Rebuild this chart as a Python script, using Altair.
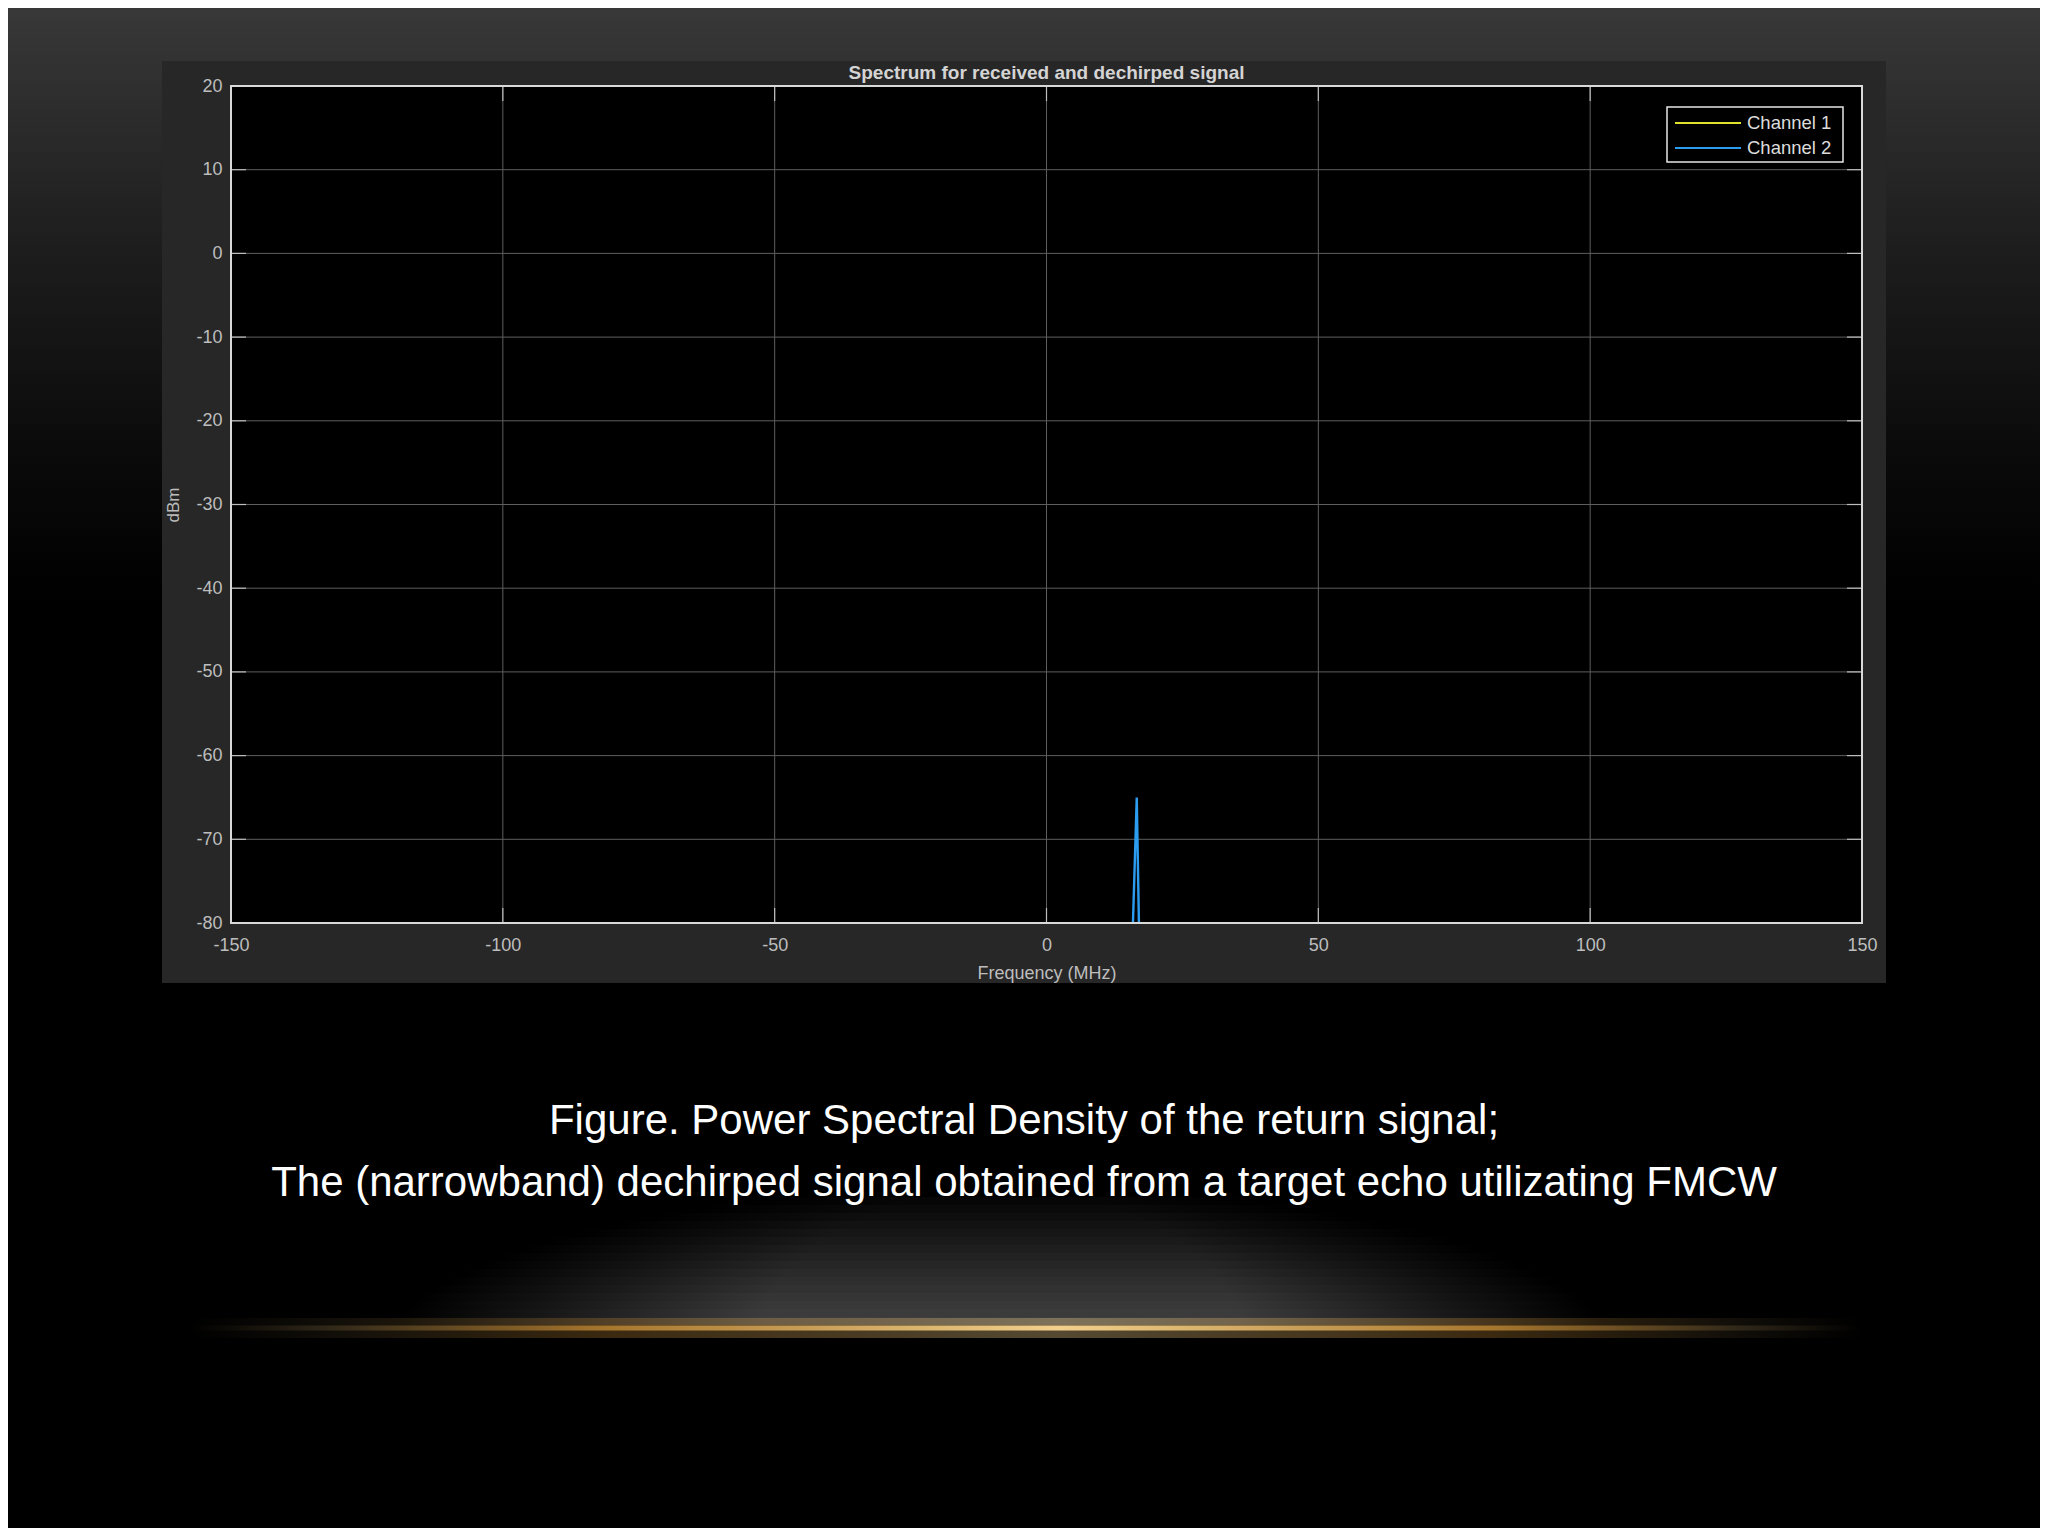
import altair as alt
import pandas as pd

# ---------------- data ----------------
freq_mhz = [15.9, 16.6, 17.0]          # Channel 2 spike (MHz)
ch2_dbm = [-80, -65, -80]              # Channel 2 level (dBm)
x_ticks = [-150, -100, -50, 0, 50, 100, 150]
y_ticks = [-80, -70, -60, -50, -40, -30, -20, -10, 0, 10, 20]
channels = ["Channel 1", "Channel 2"]
channel_colors = ["#e2e22a", "#2b9cf0"]
chart_title = "Spectrum for received and dechirped signal"
x_title = "Frequency (MHz)"
y_title = "dBm"
caption_lines = [
    "Figure. Power Spectral Density of the return signal;",
    "The (narrowband) dechirped signal obtained from a target echo utilizating FMCW",
]

# ---------------- layout ----------------
W, H = 1631, 837
PAD_L, PAD_T = 223, 78
TOTAL_W, TOTAL_H = 2032, 1520
LABEL_FONT = "Liberation Sans"
CAPTION_FONT = "Liberation Sans, Arial, sans-serif"

one = pd.DataFrame({"k": [1]})
xscale = alt.Scale(domain=[-150, 150], nice=False, zero=False)
yscale = alt.Scale(domain=[-80, 20], nice=False, zero=False)

x_axis = alt.Axis(values=x_ticks, grid=False, domain=False, ticks=False, tickSize=0,
                  labelFlush=False, labelOverlap=False, labelBound=False,
                  labelFont=LABEL_FONT, labelFontSize=18, labelColor="#bdbdbd",
                  labelPadding=13, labelExpr="'' + datum.value",
                  title=x_title, titleFont=LABEL_FONT, titleFontSize=18,
                  titleFontWeight="normal", titleColor="#bdbdbd", titlePadding=10,
                  zindex=1)
y_axis = alt.Axis(values=y_ticks, grid=False, domain=False, ticks=False, tickSize=0,
                  labelFlush=False, labelOverlap=False, labelBound=False,
                  labelFont=LABEL_FONT, labelFontSize=18, labelColor="#bdbdbd",
                  labelPadding=9, labelExpr="'' + datum.value",
                  title=y_title, titleFont=LABEL_FONT, titleFontSize=17,
                  titleFontWeight="normal", titleColor="#bdbdbd", titlePadding=13,
                  zindex=1)


def box(x1, x2, y1, y2, **kw):
    return alt.Chart(one).mark_rect(**kw).encode(
        x=alt.value(x1), x2=alt.value(x2), y=alt.value(y1), y2=alt.value(y2))


def label(text, x, y, **kw):
    return alt.Chart(one).mark_text(text=text, **kw).encode(x=alt.value(x), y=alt.value(y))


def hgrad(stops):
    return alt.LinearGradient(gradient="linear", x1=0, x2=1, y1=0, y2=0,
                              stops=[alt.GradientStop(offset=o, color=c) for o, c in stops])


# slide background gradient (top grey fading to black)
bg = box(-PAD_L, TOTAL_W - PAD_L, -PAD_T, 514,
         fill=alt.LinearGradient(gradient="linear", x1=0, x2=0, y1=0, y2=1, stops=[
             alt.GradientStop(offset=0, color="#383838"),
             alt.GradientStop(offset=0.24, color="#282828"),
             alt.GradientStop(offset=0.41, color="#1d1d1d"),
             alt.GradientStop(offset=0.59, color="#131313"),
             alt.GradientStop(offset=0.76, color="#0a0a0a"),
             alt.GradientStop(offset=1, color="#000000"),
         ]))

panel = box(-69, 1655, -25, 897, fill="#272727")
plot_bg = box(0, W, 0, H, fill="#000000")

df_xt = pd.DataFrame({"freq": x_ticks})
df_yt = pd.DataFrame({"dbm": y_ticks})

grid_x = alt.Chart(df_xt).mark_rule(color="#5e5e5e", strokeWidth=1).encode(
    x=alt.X("freq:Q", scale=xscale, axis=x_axis), y=alt.value(0), y2=alt.value(H))
grid_y = alt.Chart(df_yt).mark_rule(color="#5e5e5e", strokeWidth=1).encode(
    y=alt.Y("dbm:Q", scale=yscale, axis=y_axis), x=alt.value(0), x2=alt.value(W))

TL = 15
tick_b = alt.Chart(df_xt).mark_rule(color="#bdbdbd", strokeWidth=1.2).encode(
    x=alt.X("freq:Q", scale=xscale, axis=x_axis), y=alt.value(H), y2=alt.value(H - TL))
tick_t = alt.Chart(df_xt).mark_rule(color="#bdbdbd", strokeWidth=1.2).encode(
    x=alt.X("freq:Q", scale=xscale, axis=x_axis), y=alt.value(0), y2=alt.value(TL))
tick_l = alt.Chart(df_yt).mark_rule(color="#bdbdbd", strokeWidth=1.2).encode(
    y=alt.Y("dbm:Q", scale=yscale, axis=y_axis), x=alt.value(0), x2=alt.value(TL))
tick_r = alt.Chart(df_yt).mark_rule(color="#bdbdbd", strokeWidth=1.2).encode(
    y=alt.Y("dbm:Q", scale=yscale, axis=y_axis), x=alt.value(W - TL), x2=alt.value(W))

df_line = pd.DataFrame({"freq": freq_mhz, "dbm": ch2_dbm, "channel": ["Channel 2"] * len(freq_mhz)})
line = alt.Chart(df_line).mark_line(clip=True, strokeWidth=2.4).encode(
    x=alt.X("freq:Q", scale=xscale, axis=x_axis),
    y=alt.Y("dbm:Q", scale=yscale, axis=y_axis),
    color=alt.Color("channel:N", scale=alt.Scale(domain=channels, range=channel_colors), legend=None),
)

frame = box(0, W, 0, H, fillOpacity=0, stroke="#d9d9d9", strokeWidth=2)

# legend (drawn as marks)
leg_layers = [box(1436, 1612, 21, 76, fill="#000000", stroke="#e6e6e6", strokeWidth=1.5)]
for i, (ch, col) in enumerate(zip(channels, channel_colors)):
    yy = 37 + 25 * i
    leg_layers.append(alt.Chart(one).mark_rule(color=col, strokeWidth=1.8).encode(
        x=alt.value(1444), x2=alt.value(1510), y=alt.value(yy)))
    leg_layers.append(label(ch, 1516, yy, align="left", baseline="middle",
                            font=LABEL_FONT, fontSize=18.5, color="#dcdcdc"))

title_mark = label(chart_title, W / 2, -13, align="center", baseline="middle",
                   font=LABEL_FONT, fontSize=19, fontWeight="bold", color="#d4d4d4")

# decorative grey haze above the gold streak: thin horizontal bands, each fading sideways
HAZE_CX, HAZE_BOTTOM = 769, 1239
haze_bands = [  # (height above streak, half width, grey level)
    (8, 600, "#3e3e3e"), (16, 595, "#3b3b3b"), (24, 588, "#383838"), (32, 578, "#353535"),
    (40, 566, "#313131"), (48, 552, "#2e2e2e"), (56, 536, "#2a2a2a"), (64, 518, "#262626"),
    (72, 498, "#222222"), (80, 475, "#1e1e1e"), (88, 450, "#1a1a1a"), (96, 420, "#161616"),
    (104, 385, "#121212"), (112, 345, "#0e0e0e"), (120, 300, "#0a0a0a"), (128, 250, "#060606"),
]
haze_layers = []
prev = 0
for top, half, grey in haze_bands:
    haze_layers.append(box(HAZE_CX - half, HAZE_CX + half, HAZE_BOTTOM - top, HAZE_BOTTOM - prev,
                           fill=hgrad([(0, "#000000"), (0.3, grey), (0.5, grey), (0.7, grey), (1, "#000000")])))
    prev = top

gold_stops = [
    (0, "#000000"), (0.08, "#2e2618"), (0.25, "#a8772e"), (0.52, "#f2d18c"),
    (0.78, "#a8772e"), (0.93, "#2e2618"), (1, "#000000"),
]
gold_glow = box(-41, 1629, 1232, 1252, opacity=0.35, fill=hgrad(gold_stops))
gold_core = box(-41, 1629, 1239.5, 1244.5, fill=hgrad(gold_stops))

captions = [
    label(t, 793, 1035 + 62 * i, align="center", baseline="middle",
          font=CAPTION_FONT, fontSize=42, color="#ffffff")
    for i, t in enumerate(caption_lines)
]

chart = alt.layer(
    bg, panel, plot_bg, grid_x, grid_y, tick_b, tick_t, tick_l, tick_r, line, frame,
    *leg_layers, title_mark, *haze_layers, gold_glow, gold_core, *captions,
).properties(
    width=W, height=H,
    padding={"left": PAD_L, "top": PAD_T, "right": TOTAL_W - PAD_L - W, "bottom": TOTAL_H - PAD_T - H},
    autosize=alt.AutoSizeParams(type="none"),
    background="#000000",
).configure_view(stroke=None)

chart.save("out.html", embed_options={"renderer": "svg", "actions": False})
